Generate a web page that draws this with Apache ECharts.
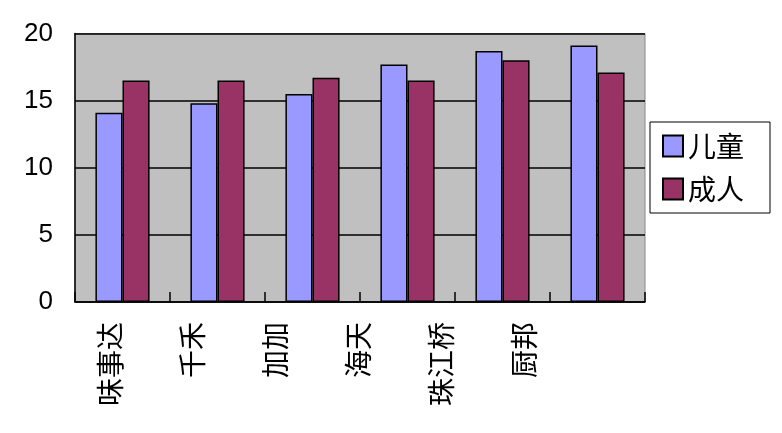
<!DOCTYPE html>
<html><head><meta charset="utf-8">
<script src="https://cdn.jsdelivr.net/npm/echarts@6/dist/echarts.min.js"></script>
<style>html,body{margin:0;padding:0;background:#fff}#c{width:782px;height:433px}</style>
</head><body><div id="c"></div>
<script>
const categories = ['味事达', '千禾', '加加', '海天', '珠江桥', '厨邦'];
const children = [14.1, 14.8, 15.5, 17.7, 18.7, 19.1];
const adults = [16.5, 16.5, 16.7, 16.5, 18.0, 17.1];
const seriesNames = ['儿童', '成人'];

const chart = echarts.init(document.getElementById('c'), null, {renderer: 'canvas'});
chart.setOption({
  animation: false,
  backgroundColor: '#fff',
  grid: [
    {left: 75, right: 137, top: 33.5, bottom: 131, show: true, backgroundColor: '#c0c0c0', borderColor: '#888', borderWidth: 1},
    {left: 68.6, width: 497, top: 33.5, bottom: 131, show: false}
  ],
  legend: {
    orient: 'vertical', left: 650, top: 122,
    data: seriesNames,
    itemWidth: 20, itemHeight: 21, itemGap: 15, itemTextGap: 5,
    padding: [10, 26, 10, 12],
    borderColor: '#000', borderWidth: 1, backgroundColor: '#fff',
    icon: 'rect',
    textStyle: {fontSize: 28, color: '#000', fontFamily: 'Noto Sans CJK SC'}
  },
  xAxis: [
    {type: 'category', gridIndex: 0, data: categories,
     axisLine: {lineStyle: {color: '#000', width: 1.5}},
     axisTick: {show: true, inside: true, length: 10, lineStyle: {color: '#000', width: 1.5}},
     axisLabel: {show: false}},
    {type: 'category', gridIndex: 1, data: categories,
     axisLine: {show: false}, axisTick: {show: false},
     axisLabel: {rotate: 90, margin: 20, fontSize: 28, color: '#000', fontFamily: 'Noto Sans CJK SC'}}
  ],
  yAxis: [
    {type: 'value', gridIndex: 0, min: 0, max: 20, interval: 5,
     axisLine: {show: true, lineStyle: {color: '#000', width: 1.5}},
     axisTick: {show: false},
     axisLabel: {margin: 22, fontSize: 26, color: '#000', fontFamily: 'Liberation Sans'},
     splitLine: {show: true, lineStyle: {color: '#000', width: 1.5}}},
    {type: 'value', gridIndex: 1, min: 0, max: 20, show: false}
  ],
  series: [
    {name: seriesNames[0], type: 'bar', xAxisIndex: 0, yAxisIndex: 0, data: children,
     barGap: '0%', barCategoryGap: '43%',
     itemStyle: {color: '#9999ff', borderColor: '#000', borderWidth: 1.5}},
    {name: seriesNames[1], type: 'bar', xAxisIndex: 0, yAxisIndex: 0, data: adults,
     barGap: '0%', barCategoryGap: '43%',
     itemStyle: {color: '#993366', borderColor: '#000', borderWidth: 1.5}}
  ]
});
</script></body></html>
